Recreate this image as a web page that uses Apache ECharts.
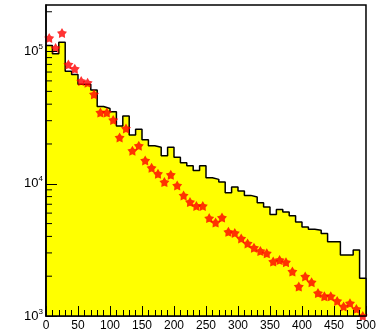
<!DOCTYPE html>
<html>
<head>
<meta charset="utf-8">
<script src="https://cdn.jsdelivr.net/npm/echarts@6/dist/echarts.min.js"></script>
<style>
html,body{margin:0;padding:0;background:#fff;}
#c{width:379px;height:332px;}
</style>
</head>
<body>
<div id="c"></div>
<script>
// Histogram bins: 50 bins of width 10 from 0 to 500
const binWidth = 10;
const histValues = [111000, 96100, 117500, 71100, 67100, 56500, 56500, 51200, 38400, 37100,
  35000, 27400, 32600, 23400, 25900, 21500, 19400, 18900, 16300, 18900,
  15900, 14400, 13700, 12600, 13700, 11100, 10800, 10300, 8560, 9440,
  8810, 8170, 7940, 7200, 6680, 5850, 6380, 6120, 5720, 5150,
  4720, 4530, 4460, 4210, 3650, 3650, 2890, 2890, 3150, 1930];
// Red star markers at bin centres
const starValues = [126800, 106600, 138200, 79800, 74100, 59800, 58200, 47500, 34600, 34600,
  30400, 22400, 26200, 17800, 19400, 15000, 13200, 11900, 10300, 11700,
  9710, 8170, 7280, 6800, 6800, 5500, 5090, 5550, 4330, 4250,
  3860, 3540, 3280, 3100, 2980, 2580, 2650, 2550, 2170, 1670,
  1990, 1800, 1490, 1410, 1410, 1300, 1180, 1250, 1130, 1000];
const yMinorTicks = [2000, 3000, 4000, 5000, 6000, 7000, 8000, 9000,
  20000, 30000, 40000, 50000, 60000, 70000, 80000, 90000, 200000];
const xMin = 0, xMax = 500, yMin = 1000, yMax = 225000;

// build step outline points from the bin arrays
const stepData = [[xMin, yMin]];
histValues.forEach((v, i) => stepData.push([xMin + i * binWidth, v]));
stepData.push([xMin + histValues.length * binWidth, histValues[histValues.length - 1]]);
stepData.push([xMin + histValues.length * binWidth, yMin]);
const starData = starValues.map((v, i) => [xMin + (i + 0.5) * binWidth, v]);

const chart = echarts.init(document.getElementById('c'), null, {renderer: 'canvas'});
const font = 'Liberation Sans, Arial, sans-serif';
chart.setOption({
  animation: false,
  grid: {left: 46, right: 7, top: 5, bottom: 14, show: true, borderColor: '#000', borderWidth: 1.5, backgroundColor: 'transparent'},
  xAxis: {
    type: 'value', min: xMin, max: xMax, interval: 50, z: 10,
    axisLine: {show: true, onZero: false, lineStyle: {color: '#000', width: 1.5}},
    axisTick: {show: true, inside: true, length: 10, lineStyle: {color: '#000', width: 1}},
    minorTick: {show: true, splitNumber: 5, length: 6, lineStyle: {color: '#000', width: 1}},
    axisLabel: {color: '#000', fontSize: 12, fontFamily: font, margin: 4, hideOverlap: false},
    splitLine: {show: false}
  },
  yAxis: {
    type: 'log', logBase: 10, min: yMin, max: yMax, z: 10,
    axisLine: {show: true, lineStyle: {color: '#000', width: 1.5}},
    axisTick: {show: true, inside: true, length: 11, lineStyle: {color: '#000', width: 1}},
    axisLabel: {
      color: '#000', fontFamily: font, margin: 3, showMaxLabel: false,
      formatter: function (v) {
        const e = Math.log10(v);
        if (Math.abs(e - Math.round(e)) > 1e-6) return '';
        return '{b|10}{s|' + Math.round(e) + '}';
      },
      rich: {
        b: {fontSize: 13, fontFamily: font, color: '#000'},
        s: {fontSize: 8, fontFamily: font, color: '#000', verticalAlign: 'top', padding: [0, 0, 9, 0]}
      }
    },
    splitLine: {show: false}
  },
  series: [
    {
      type: 'line', data: stepData, step: 'end', symbol: 'none', z: 2,
      lineStyle: {color: '#000', width: 1.5},
      areaStyle: {color: '#ffff00', opacity: 1, origin: 'start'}
    },
    {
      type: 'scatter', data: starData, z: 5, clip: false,
      symbol: 'path://M50,0 L66.5,27.3 L97.6,34.5 L76.6,58.7 L79.4,90.5 L50,78 L20.6,90.5 L23.4,58.7 L2.4,34.5 L33.5,27.3 Z',
      symbolSize: 10,
      itemStyle: {color: '#ff0000'}
    },
    {
      type: 'custom', z: 11, clip: false,
      data: yMinorTicks.map(v => [xMin, v]),
      renderItem: function (params, api) {
        const p = api.coord([api.value(0), api.value(1)]);
        return {type: 'line', shape: {x1: p[0], y1: p[1], x2: p[0] + 6, y2: p[1]},
          style: {stroke: '#000', lineWidth: 1}};
      }
    }
  ]
});
</script>
</body>
</html>
